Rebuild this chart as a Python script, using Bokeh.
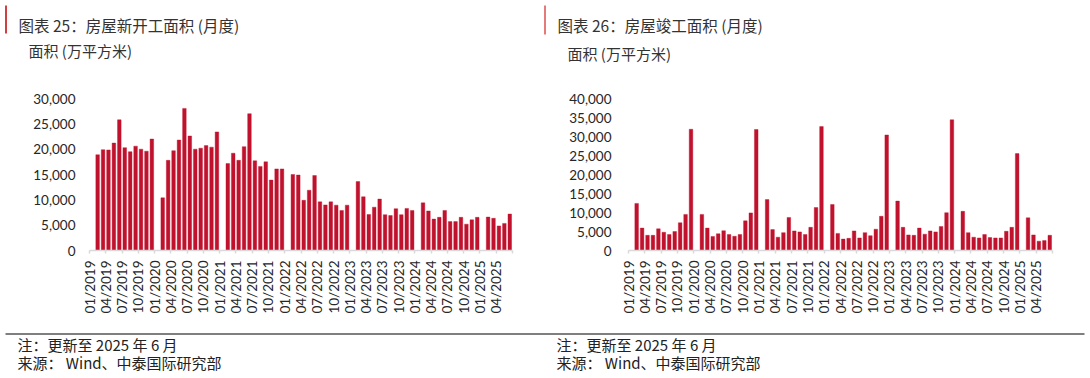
import math
from bokeh.plotting import figure
from bokeh.layouts import column, row
from bokeh.models import ColumnDataSource, FixedTicker, NumeralTickFormatter, Range1d
from bokeh.embed import file_html
from bokeh.resources import INLINE
from bokeh.core.properties import value

# ---------------- data (万平方米), Feb..Dec each year (Jan not published separately)
years = [2019, 2020, 2021, 2022, 2023, 2024, 2025]

starts_2019 = [18900, 19900, 19850, 21200, 25800, 20300, 19500, 20600, 20000, 19600, 22000]
starts_2020 = [10400, 17800, 19700, 21800, 28050, 22600, 20000, 20200, 20700, 20400, 23400]
starts_2021 = [17150, 19200, 17800, 20500, 27000, 17700, 16600, 17500, 13900, 16100, 16100]
starts_2022 = [15000, 14900, 9900, 11900, 14800, 9600, 9000, 9600, 8950, 7900, 8950]
starts_2023 = [13600, 10600, 7100, 8550, 10150, 7070, 6900, 8250, 7070, 8300, 7900]
starts_2024 = [9400, 7800, 6200, 6550, 7900, 5700, 5700, 6550, 5200, 6050, 6550]
starts_2025 = [6600, 6350, 4850, 5350, 7200]

comp_2019 = [12400, 5900, 4000, 4000, 5700, 4800, 4200, 5000, 7300, 9500, 31900]
comp_2020 = [9500, 5900, 3700, 4400, 5200, 4200, 3750, 4200, 7800, 9900, 31850]
comp_2021 = [13400, 5500, 3500, 4700, 8700, 5150, 4900, 4200, 6100, 11300, 32600]
comp_2022 = [12100, 4500, 3000, 3200, 5150, 3300, 4700, 3900, 5600, 9000, 30400]
comp_2023 = [13000, 6100, 4100, 4000, 5900, 4300, 5150, 4900, 6300, 9950, 34400]
comp_2024 = [10300, 4700, 3500, 3300, 4200, 3400, 3300, 3300, 5050, 6100, 25500]
comp_2025 = [8600, 4100, 2450, 2600, 4000]

tick_labels = ["01/2019", "04/2019", "07/2019", "10/2019",
               "01/2020", "04/2020", "07/2020", "10/2020",
               "01/2021", "04/2021", "07/2021", "10/2021",
               "01/2022", "04/2022", "07/2022", "10/2022",
               "01/2023", "04/2023", "07/2023", "10/2023",
               "01/2024", "04/2024", "07/2024", "10/2024",
               "01/2025", "04/2025"]

title_left = "图表 25：房屋新开工面积 (月度)"
title_right = "图表 26：房屋竣工面积 (月度)"
unit_label = "面积 (万平方米)"
note_text = "注：更新至 2025 年 6 月"
source_text = "来源： Wind、中泰国际研究部"

RED = "#C0122D"
CJK = "Noto Sans CJK SC"
NUM = "Lato"


def month_index(label):
    mm, yy = label.split("/")
    return (int(yy) - 2019) * 12 + int(mm) - 1


def build_source(series):
    xs, tops = [], []
    for yr, vals in zip(years, series):
        for i, v in enumerate(vals):
            m = i + 2
            xs.append((yr - 2019) * 12 + (m - 1) + 0.5)
            tops.append(v)
    return ColumnDataSource(dict(x=xs, top=tops))


tick_pos = [month_index(t) for t in tick_labels]
end_tick = tick_pos[-1] + 3
overrides = {p: l for p, l in zip(tick_pos, tick_labels)}
overrides[end_tick] = ""


def chart(series, ymax, bl, br, bt, bb, ystand):
    p = figure(width=545, height=248, x_range=Range1d(0, end_tick), y_range=Range1d(0, ymax),
               output_backend="svg", toolbar_location=None,
               min_border_left=bl, min_border_right=br, min_border_top=bt, min_border_bottom=bb)
    p.vbar(x="x", top="top", width=0.66, source=build_source(series),
           fill_color=RED, line_color=RED, line_width=0.4)
    p.xgrid.visible = False
    p.ygrid.visible = False
    p.outline_line_color = None
    xa = p.xaxis[0]
    xa.ticker = FixedTicker(ticks=tick_pos + [end_tick])
    xa.major_label_overrides = overrides
    xa.major_label_orientation = math.pi / 2
    xa.axis_line_color = "#d9d9d9"
    xa.axis_line_width = 1.5
    xa.major_tick_line_color = "#d9d9d9"
    xa.major_tick_line_width = 1.5
    xa.major_tick_in = 0
    xa.major_tick_out = 3
    xa.minor_tick_line_color = None
    xa.major_label_standoff = 7
    xa.major_label_text_font = NUM
    xa.major_label_text_font_size = "13.5px"
    xa.major_label_text_color = "#262626"
    ya = p.yaxis[0]
    ya.ticker = FixedTicker(ticks=list(range(0, ymax + 1, 5000)))
    ya.formatter = NumeralTickFormatter(format="0,0")
    ya.axis_line_color = None
    ya.major_tick_line_color = None
    ya.minor_tick_line_color = None
    ya.major_label_standoff = ystand
    ya.major_label_text_font = NUM
    ya.major_label_text_font_size = "13.5px"
    ya.major_label_text_color = "#262626"
    return p


left = chart([starts_2019, starts_2020, starts_2021, starts_2022, starts_2023, starts_2024, starts_2025],
             30000, 89, 33, 15, 74, 8)
right = chart([comp_2019, comp_2020, comp_2021, comp_2022, comp_2023, comp_2024, comp_2025],
              40000, 83, 38, 18, 78, 11)


def blank(h, y0, y1):
    p = figure(width=1090, height=h, x_range=Range1d(0, 1090), y_range=Range1d(y1, y0),
               output_backend="svg", toolbar_location=None, min_border=0,
               x_axis_type=None, y_axis_type=None)
    p.xgrid.visible = False
    p.ygrid.visible = False
    p.outline_line_color = None
    return p


hdr = blank(80, 0, 80)
hdr.segment(x0=[5.5], y0=[5], x1=[5.5], y1=[33], line_color="#C00000", line_width=1.5)
hdr.segment(x0=[544.5], y0=[5], x1=[544.5], y1=[34], line_color="#E47A7A", line_width=2)
hdr.text(x=[18, 557], y=[24, 24], text=[title_left, title_right],
         text_font=value(CJK), text_font_size="15.5px", text_baseline="middle", text_color="#333333")
hdr.text(x=[28, 567], y=[50, 53], text=[unit_label, unit_label],
         text_font=value(CJK), text_font_size="15px", text_baseline="middle", text_color="#333333")

ftr = blank(50, 328, 378)
ftr.segment(x0=[5], y0=[333.5], x1=[1084], y1=[333.5], line_color="#555555", line_width=1.3)
ftr.text(x=[17, 556], y=[344, 344], text=[note_text, note_text],
         text_font=value(CJK), text_font_size="15px", text_baseline="middle", text_color="#222222")
ftr.text(x=[17, 556], y=[362, 362], text=[source_text, source_text],
         text_font=value(CJK), text_font_size="15px", text_baseline="middle", text_color="#222222")

layout = column(hdr, row(left, right), ftr)
open("out.html", "w").write(file_html(layout, INLINE))
